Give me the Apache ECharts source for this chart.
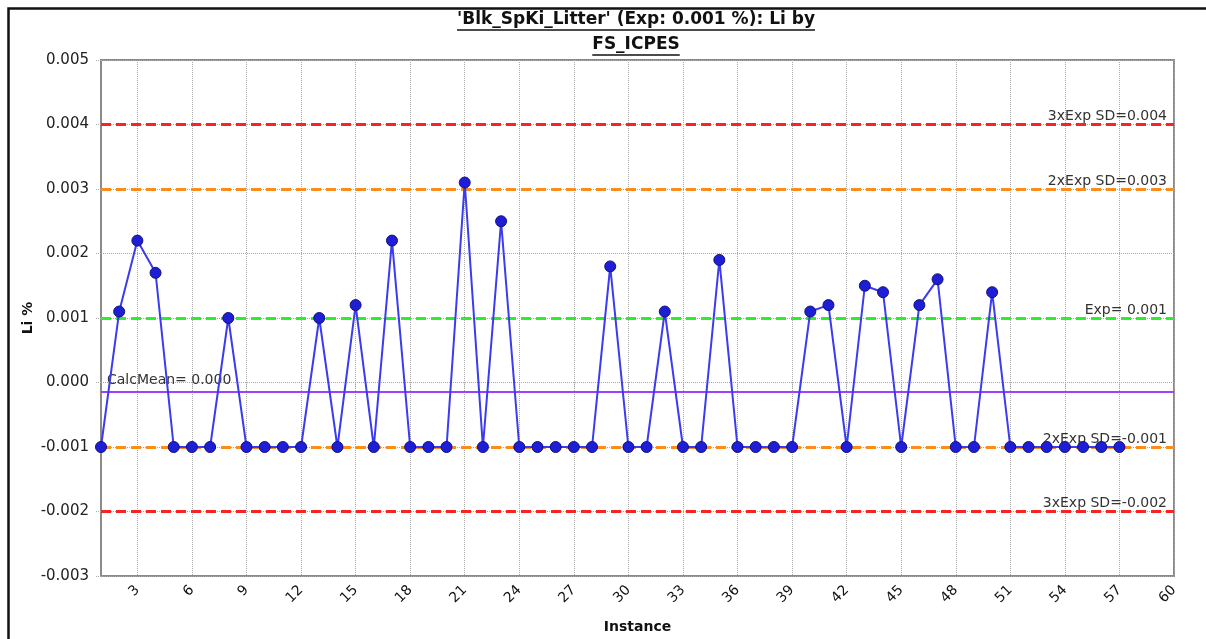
<!DOCTYPE html>
<html>
<head>
<meta charset="utf-8">
<title>Li by FS_ICPES</title>
<script src="https://cdn.jsdelivr.net/npm/echarts@6/dist/echarts.min.js"></script>
<style>
  html, body { margin: 0; padding: 0; background: #fff; }
  #chart { width: 1206px; height: 639px; }
</style>
</head>
<body>
<div id="chart"></div>
<script>
// Instance numbers and measured Li % for each run
const instances = [
  1, 2, 3, 4, 5, 6, 7, 8, 9, 10, 11, 12, 13, 14, 15, 16, 17, 18, 19, 20,
  21, 22, 23, 24, 25, 26, 27, 28, 29, 30, 31, 32, 33, 34, 35, 36, 37, 38, 39, 40,
  41, 42, 43, 44, 45, 46, 47, 48, 49, 50, 51, 52, 53, 54, 55, 56, 57
];
const liValues = [
  -0.001, 0.0011, 0.0022, 0.0017, -0.001, -0.001, -0.001, 0.001, -0.001, -0.001,
  -0.001, -0.001, 0.001, -0.001, 0.0012, -0.001, 0.0022, -0.001, -0.001, -0.001,
  0.0031, -0.001, 0.0025, -0.001, -0.001, -0.001, -0.001, -0.001, 0.0018, -0.001,
  -0.001, 0.0011, -0.001, -0.001, 0.0019, -0.001, -0.001, -0.001, -0.001, 0.0011,
  0.0012, -0.001, 0.0015, 0.0014, -0.001, 0.0012, 0.0016, -0.001, -0.001, 0.0014,
  -0.001, -0.001, -0.001, -0.001, -0.001, -0.001, -0.001
];

// Control limits around the expected value
const limitValues = [0.004, 0.003, 0.001, -0.001, -0.002];
const limitLabels = ['3xExp SD=0.004', '2xExp SD=0.003', 'Exp= 0.001', '2xExp SD=-0.001', '3xExp SD=-0.002'];
const limitColors = ['#ff2020', '#ff8c1a', '#2cee2c', '#ff8c1a', '#ff2020'];

// Axis tick labels
const xTickValues = [3, 6, 9, 12, 15, 18, 21, 24, 27, 30, 33, 36, 39, 42, 45, 48, 51, 54, 57, 60];
const yTicks = [-0.003, -0.002, -0.001, 0, 0.001, 0.002, 0.003, 0.004, 0.005];

const titleLines = ["'Blk_SpKi_Litter' (Exp: 0.001 %): Li by", 'FS_ICPES'];

const calcMean = liValues.reduce((a, b) => a + b, 0) / liValues.length;

const chart = echarts.init(document.getElementById('chart'), null, { renderer: 'canvas' });

const titleFont = 'bold 17px "DejaVu Sans"';
const measure = (() => {
  const ctx = document.createElement('canvas').getContext('2d');
  return (txt, font) => { ctx.font = font; return ctx.measureText(txt).width; };
})();

// Two-line underlined title, centred over the plot
const cx = 636;
const titleGraphics = [];
titleLines.forEach((t, i) => {
  const y = 20 + i * 25;
  const w = measure(t, titleFont);
  titleGraphics.push({
    type: 'text', x: cx, y: y,
    style: { text: t, font: titleFont, fill: '#111', align: 'center', verticalAlign: 'middle' }
  });
  titleGraphics.push({
    type: 'line',
    shape: { x1: cx - w / 2, y1: y + 10, x2: cx + w / 2, y2: y + 10 },
    style: { stroke: '#111', lineWidth: 1.3 }
  });
});

const limitLines = limitValues.map((v, i) => ({
  yAxis: v,
  lineStyle: { color: limitColors[i], type: [10, 5], width: 3 },
  label: {
    show: true, formatter: limitLabels[i], position: 'insideEndTop',
    distance: [7, 1], color: '#333', fontFamily: 'DejaVu Sans', fontSize: 14
  }
}));
limitLines.push({
  yAxis: calcMean,
  lineStyle: { color: '#a040ff', type: 'solid', width: 2 },
  label: {
    show: true, formatter: 'CalcMean= 0.000', position: 'insideStartTop',
    distance: [6, 4], color: '#333', fontFamily: 'DejaVu Sans', fontSize: 14
  }
});

chart.setOption({
  animation: false,
  backgroundColor: '#fff',
  grid: {
    left: 101, right: 32, top: 60, bottom: 63,
    show: true, borderColor: '#8a8a8a', borderWidth: 2, backgroundColor: 'transparent'
  },
  graphic: [
    {
      type: 'rect', shape: { x: 8.5, y: 8.5, width: 1220, height: 660 },
      style: { fill: 'none', stroke: '#111', lineWidth: 2.5 }, silent: true
    },
    ...titleGraphics
  ],
  xAxis: {
    type: 'value', min: 1, max: 60,
    name: 'Instance', nameLocation: 'middle', nameGap: 44, nameMoveOverlap: false,
    nameTextStyle: { fontFamily: 'DejaVu Sans', fontWeight: 'bold', fontSize: 14, color: '#111' },
    axisLine: { show: false },
    axisTick: { show: true, length: 5, customValues: xTickValues, lineStyle: { color: '#aaa', type: 'dotted' } },
    axisLabel: {
      customValues: xTickValues, rotate: 45, margin: 12,
      fontFamily: 'DejaVu Sans', fontSize: 14, color: '#111'
    },
    splitLine: { show: true, lineStyle: { color: '#a8a8a8', type: 'dotted', width: 1 } }
  },
  yAxis: {
    type: 'value', min: yTicks[0], max: yTicks[yTicks.length - 1], interval: 0.001,
    name: 'Li %', nameLocation: 'middle', nameGap: 66, nameRotate: 90, nameMoveOverlap: false,
    nameTextStyle: { fontFamily: 'DejaVu Sans', fontWeight: 'bold', fontSize: 14, color: '#111' },
    axisLine: { show: false },
    axisTick: { show: true, length: 6, lineStyle: { color: '#aaa', type: 'dotted' } },
    axisLabel: {
      margin: 12, fontFamily: 'DejaVu Sans', fontSize: 15, color: '#222',
      formatter: v => (Math.abs(v) < 1e-9 ? 0 : v).toFixed(3)
    },
    splitLine: { show: true, lineStyle: { color: '#a8a8a8', type: 'dotted', width: 1 } }
  },
  series: [{
    type: 'line',
    data: instances.map((x, i) => [x, liValues[i]]),
    symbol: 'circle', symbolSize: 11,
    lineStyle: { color: '#3b3bf0', width: 2 },
    itemStyle: { color: '#1e1ed6', borderColor: '#12127a', borderWidth: 1 },
    z: 5,
    markLine: {
      silent: true, symbol: 'none', animation: false, precision: 6,
      data: limitLines
    }
  }]
});
</script>
</body>
</html>
